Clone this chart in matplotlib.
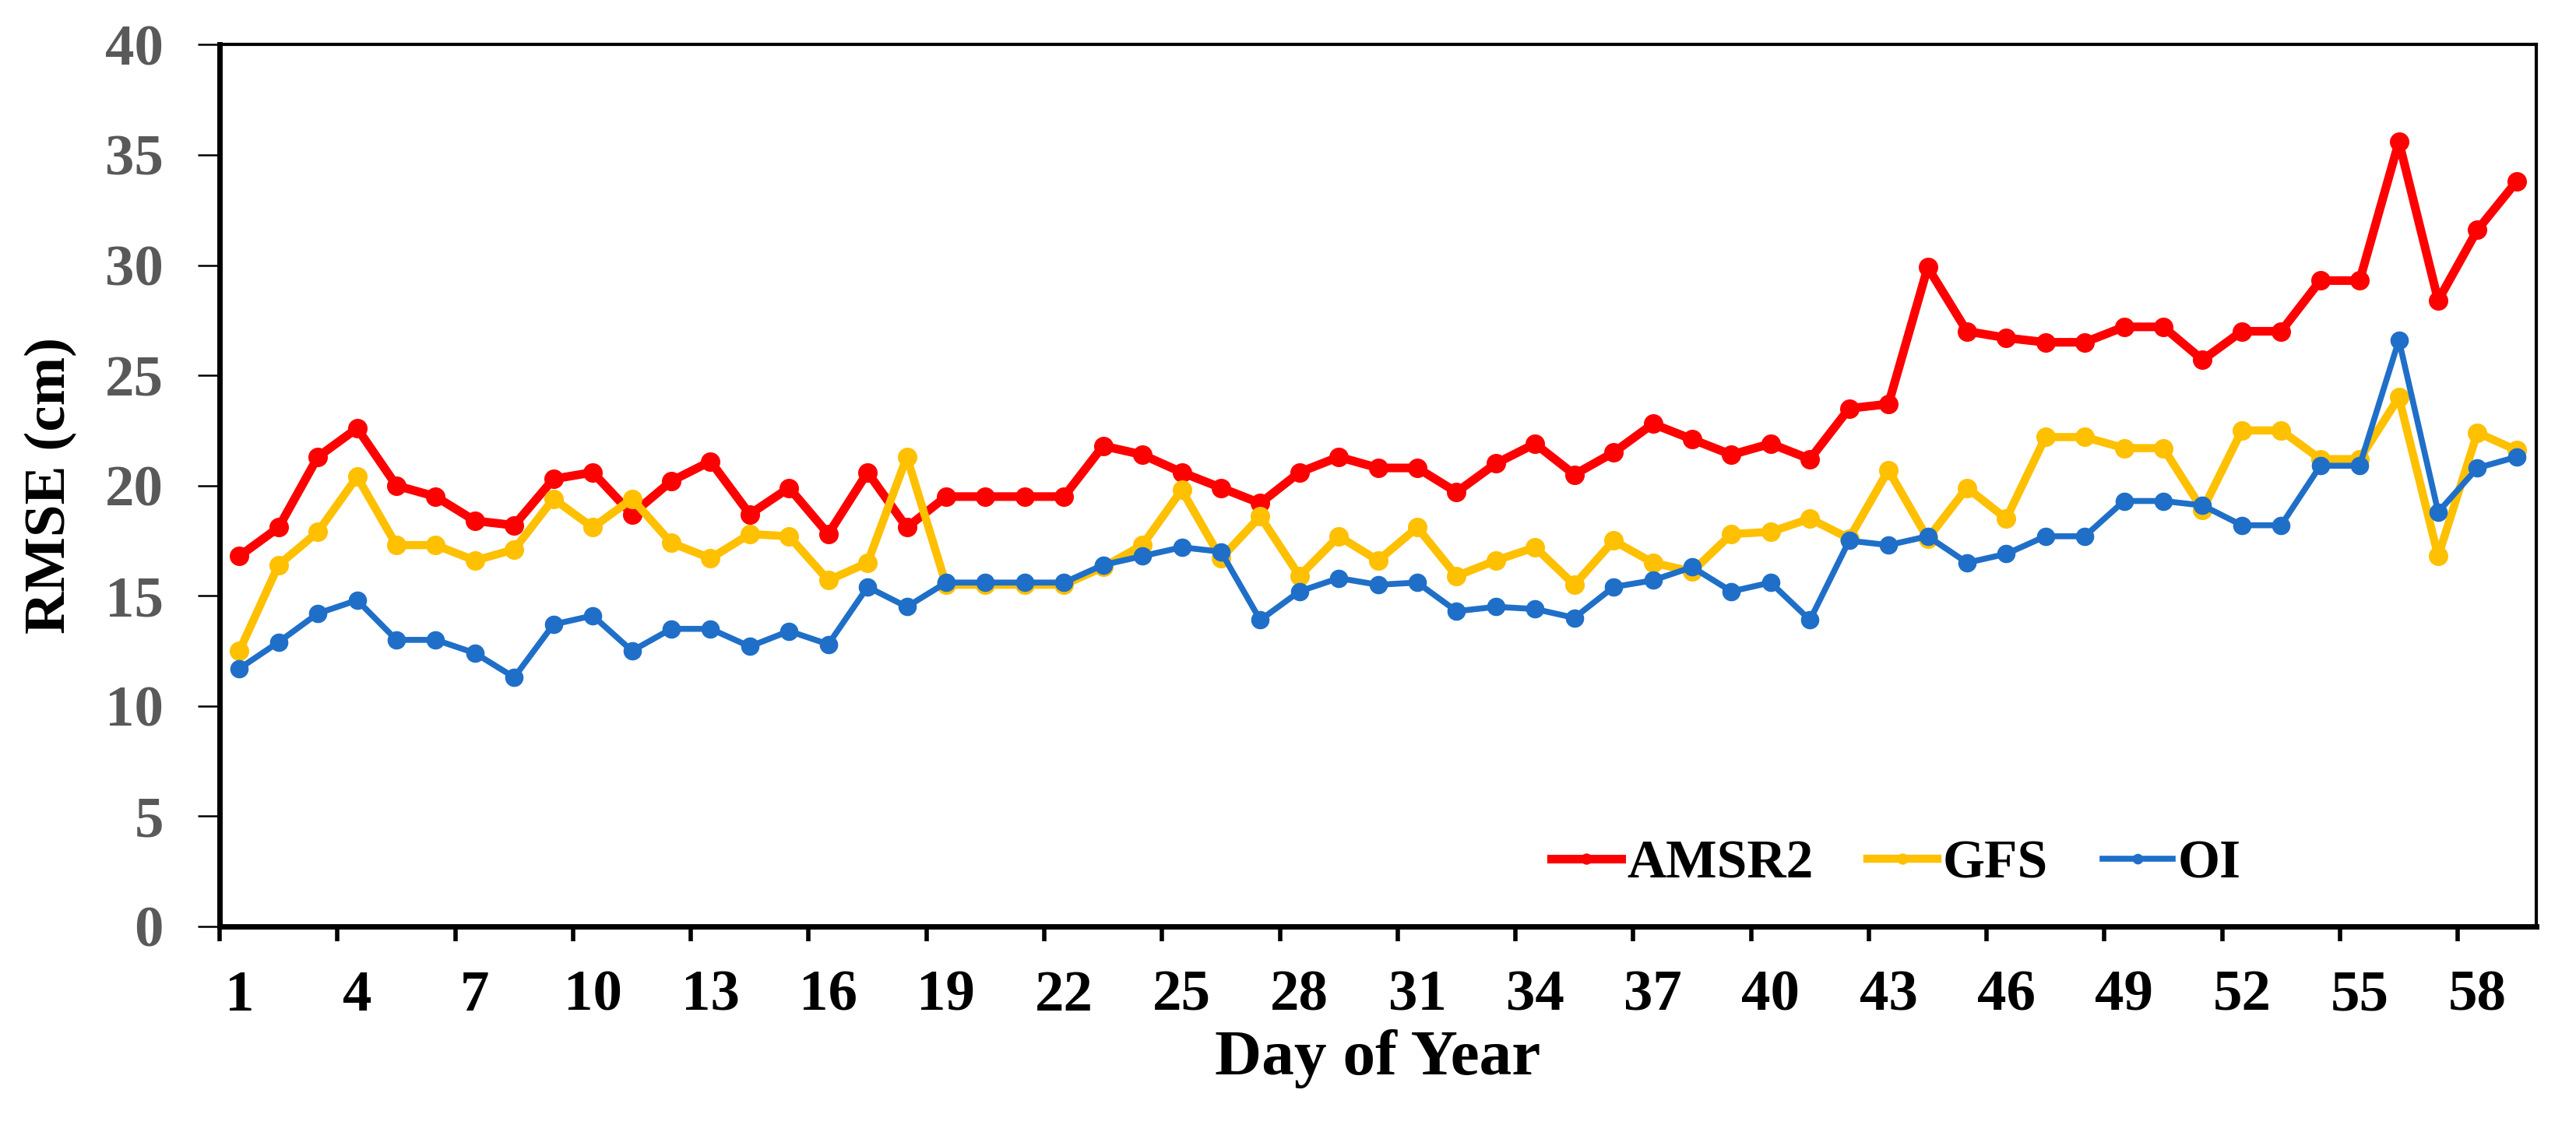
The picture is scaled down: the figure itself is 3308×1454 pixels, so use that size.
import numpy as np
import matplotlib
matplotlib.use('Agg')
import matplotlib.pyplot as plt
from matplotlib.ticker import MultipleLocator

plt.rcParams['font.family'] = ['Liberation Serif', 'DejaVu Serif']
plt.rcParams['font.weight'] = 'bold'

days = list(range(1, 60))

amsr2 = [16.8, 18.1, 21.3, 22.6, 20.0, 19.5, 18.4, 18.2, 20.3, 20.6,
         18.7, 20.2, 21.1, 18.7, 19.9, 17.8, 20.6, 18.1, 19.5, 19.5,
         19.5, 19.5, 21.8, 21.4, 20.6, 19.9, 19.2, 20.6, 21.3, 20.8,
         20.8, 19.7, 21.0, 21.9, 20.5, 21.5, 22.8, 22.1, 21.4, 21.9,
         21.2, 23.5, 23.7, 29.9, 27.0, 26.7, 26.5, 26.5, 27.2, 27.2,
         25.7, 27.0, 27.0, 29.3, 29.3, 35.6, 28.4, 31.6, 33.8]

gfs = [12.5, 16.4, 17.9, 20.4, 17.3, 17.3, 16.6, 17.1, 19.4, 18.1,
       19.4, 17.4, 16.7, 17.8, 17.7, 15.7, 16.5, 21.3, 15.5, 15.5,
       15.5, 15.5, 16.3, 17.3, 19.8, 16.7, 18.6, 15.9, 17.7, 16.6,
       18.1, 15.9, 16.6, 17.2, 15.5, 17.5, 16.5, 16.1, 17.8, 17.9,
       18.5, 17.6, 20.7, 17.6, 19.9, 18.5, 22.2, 22.2, 21.7, 21.7,
       18.9, 22.5, 22.5, 21.2, 21.2, 24.0, 16.8, 22.4, 21.6]

oi = [11.7, 12.9, 14.2, 14.8, 13.0, 13.0, 12.4, 11.3, 13.7, 14.1,
      12.5, 13.5, 13.5, 12.7, 13.4, 12.8, 15.4, 14.5, 15.6, 15.6,
      15.6, 15.6, 16.4, 16.8, 17.2, 17.0, 13.9, 15.2, 15.8, 15.5,
      15.6, 14.3, 14.5, 14.4, 14.0, 15.4, 15.7, 16.3, 15.2, 15.6,
      13.9, 17.5, 17.3, 17.7, 16.5, 16.9, 17.7, 17.7, 19.3, 19.3,
      19.1, 18.2, 18.2, 20.9, 20.9, 26.6, 18.8, 20.8, 21.3]

fig = plt.figure(figsize=(33.08, 14.54), dpi=100)
ax = fig.add_axes([0.0853, 0.1816, 0.8993, 0.7789])

ax.plot(days, amsr2, color='#FF0000', lw=8, marker='o', ms=17, label='AMSR2')
ax.plot(days, gfs, color='#FFC000', lw=7.5, marker='o', ms=17, label='GFS')
ax.plot(days, oi, color='#1F6FC8', lw=5.5, marker='o', ms=16, label='OI')

ax.set_xlim(0.5, 59.5)
ax.set_ylim(0, 40)

# labels every 3rd day, tick marks between categories
ax.set_xticks(days[::3])
ax.set_xticklabels([str(d) for d in days[::3]])
ax.set_xticks(np.arange(0.5, 58, 3), minor=True)
ax.tick_params(axis='x', which='major', length=0, pad=40, labelsize=54, labelcolor='black')
ax.tick_params(axis='x', which='minor', length=14, width=4, direction='out')

ax.yaxis.set_major_locator(MultipleLocator(5))
ax.tick_params(axis='y', which='major', length=20, width=1.8, direction='out', pad=32,
               labelsize=54, labelcolor='#595959')

for lab in ax.get_xticklabels() + ax.get_yticklabels():
    lab.set_fontweight('bold')

ax.spines['left'].set_linewidth(5)
ax.spines['bottom'].set_linewidth(5)
ax.spines['top'].set_linewidth(3)
ax.spines['right'].set_linewidth(3)

ax.set_ylabel('RMSE (cm)', fontsize=54, fontweight='bold', labelpad=26)
ax.set_xlabel('Day of Year', fontsize=60, fontweight='bold', labelpad=6)

leg = ax.legend(loc='center left', bbox_to_anchor=(0.563, 0.07), ncol=3, frameon=False,
                fontsize=50, handlelength=1.3, handletextpad=0.1, columnspacing=1.0,
                borderpad=0, markerscale=0.55)
for t in leg.get_texts():
    t.set_fontweight('bold')

fig.savefig('out.png', dpi=100)
